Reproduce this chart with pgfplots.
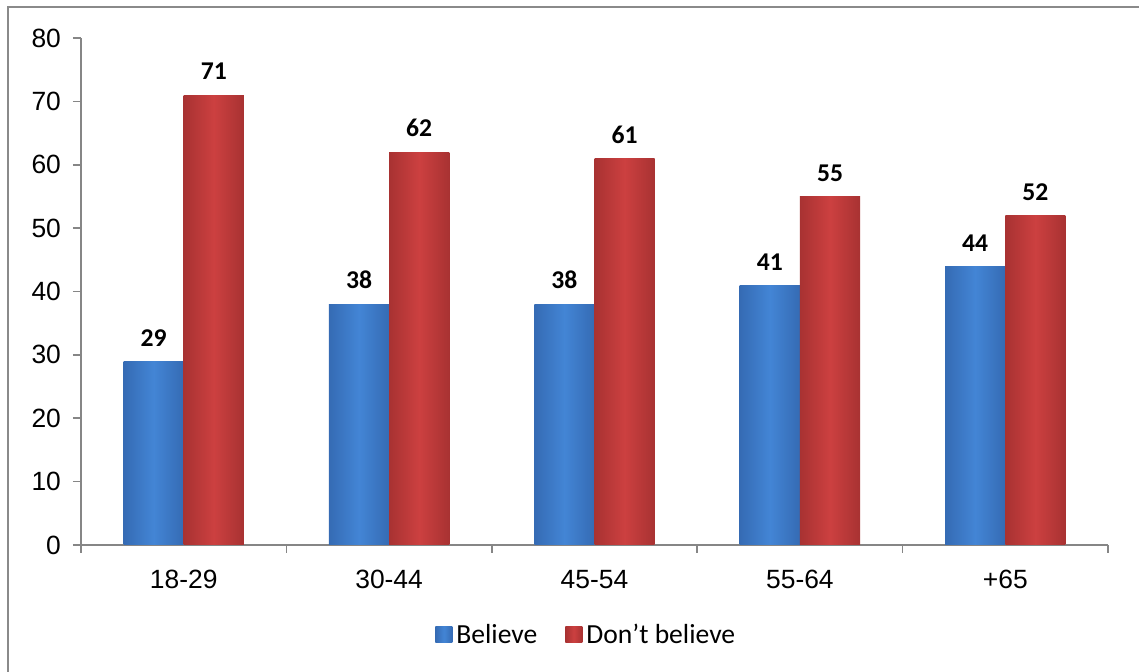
\documentclass[border=0pt]{standalone}
\usepackage{pgfplots}
\pgfplotsset{compat=1.18}
\usepackage{fontspec}
\setmainfont{Carlito}
\newfontfamily\arialf{Liberation Sans}
\definecolor{axgray}{HTML}{868686}
\definecolor{bordergray}{HTML}{8A8A8A}
\definecolor{blmid}{HTML}{4385D5}
\definecolor{bledge}{HTML}{356BB4}
\definecolor{rdmid}{HTML}{CC4040}
\definecolor{rdedge}{HTML}{A83232}
\begin{document}
\begin{tikzpicture}[x=1pt,y=1pt]
\useasboundingbox (-40.5,-63.5) rectangle (529,272.5);
\draw[bordergray, line width=1pt] (-36.5,-70) rectangle (535,269);
\begin{axis}[
  at={(0,0)}, anchor=south west,
  scale only axis, width=513.5pt, height=253.5pt,
  ymin=0, ymax=80, ytick={0,10,...,80},
  xmin=-0.5, xmax=4.5,
  xtick={0,...,4}, xticklabels={18-29,30-44,45-54,55-64,+65},
  minor xtick={-0.5,0.5,...,4.5},
  axis x line=bottom, axis y line=left,
  axis line style={draw=axgray, line width=0.8pt, -},
  tick align=outside, major tick length=4pt, minor tick length=4pt,
  tick style={draw=axgray, line width=0.8pt},
  major x tick style={draw=none},
  ticklabel style={font=\arialf\fontsize{13.2pt}{15pt}\selectfont, text=black},
  /pgf/number format/assume math mode=true,
  xticklabel style={yshift=-5pt},
  yticklabel style={xshift=-2.5pt},
  ybar, bar width=0.293,
  nodes near coords,
  every node near coord/.append style={font=\bfseries\fontsize{12.8pt}{15pt}\selectfont, text=black, yshift=4pt},
  blue bar/.style={draw=none, left color=bledge, right color=bledge, middle color=blmid, bar shift=-0.1465},
  red bar/.style={draw=none, left color=rdedge, right color=rdedge, middle color=rdmid, bar shift=0.1465},
  legend style={at={(0.493,-0.1775)}, anchor=center, draw=none, legend columns=2,
     font=\fontsize{13.8pt}{16pt}\selectfont, inner sep=0pt,
     /tikz/every even column/.append style={column sep=12pt}},
  legend image code/.code={\path[#1,draw=none] (0pt,-4pt) rectangle (8.5pt,4pt);},
  clip=false,
]
\addplot[blue bar] coordinates {(0,29)};
\addplot[red bar] coordinates {(0,71)};
\addplot[blue bar, forget plot] coordinates {(1,38)};
\addplot[blue bar, forget plot] coordinates {(2,38)};
\addplot[blue bar, forget plot] coordinates {(3,41)};
\addplot[blue bar, forget plot] coordinates {(4,44)};
\addplot[red bar, forget plot] coordinates {(1,62)};
\addplot[red bar, forget plot] coordinates {(2,61)};
\addplot[red bar, forget plot] coordinates {(3,55)};
\addplot[red bar, forget plot] coordinates {(4,52)};
\legend{Believe, Don’t believe}
\end{axis}
\end{tikzpicture}
\end{document}
